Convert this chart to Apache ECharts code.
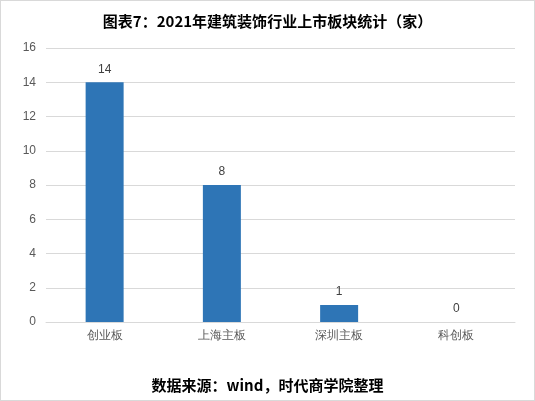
<!DOCTYPE html>
<html>
  <head>
    <meta charset="UTF-8">
    <script src="https://cdn.jsdelivr.net/npm/echarts@6/dist/echarts.min.js"></script>
    <style>
    * { margin: 0; padding: 0; }
    #main { width: 533px; height: 399px; border: 1px solid #d9d9d9; }
    </style>
  </head>
  <body>
    <div id="main"></div>
    <script>
var categories = ['创业板', '上海主板', '深圳主板', '科创板']
var counts = [14, 8, 1, 0]

var myChart = echarts.init(document.getElementById('main'))
myChart.setOption({
  backgroundColor: '#fff',
  animation: false,
  title: [{
    text: '图表7：2021年建筑装饰行业上市板块统计（家）',
    left: 'center', top: 8,
    textStyle: { fontSize: 15, fontWeight: 'bold', color: '#000', fontFamily: 'Noto Sans CJK SC' }
  }, {
    text: '数据来源：wind，时代商学院整理',
    left: 'center', top: 372,
    textStyle: { fontSize: 15, fontWeight: 'bold', color: '#000', fontFamily: 'Noto Sans CJK SC' }
  }],
  grid: { left: 45, right: 19, top: 47, bottom: 78 },
  xAxis: {
    type: 'category',
    data: categories,
    axisLine: { lineStyle: { color: '#d9d9d9' } },
    axisTick: { show: false },
    axisLabel: { color: '#595959', fontSize: 12, margin: 8 }
  },
  yAxis: {
    type: 'value',
    min: 0, max: 16, interval: 2,
    axisLine: { show: false },
    axisTick: { show: false },
    splitLine: { lineStyle: { color: '#d9d9d9' } },
    axisLabel: { color: '#595959', fontSize: 12, margin: 10 }
  },
  series: [{
    type: 'bar',
    data: counts,
    barWidth: 38,
    itemStyle: { color: '#2E75B6' },
    label: { show: true, position: 'top', color: '#404040', fontSize: 12, distance: 7 }
  }]
})
    </script>
  </body>
</html>
